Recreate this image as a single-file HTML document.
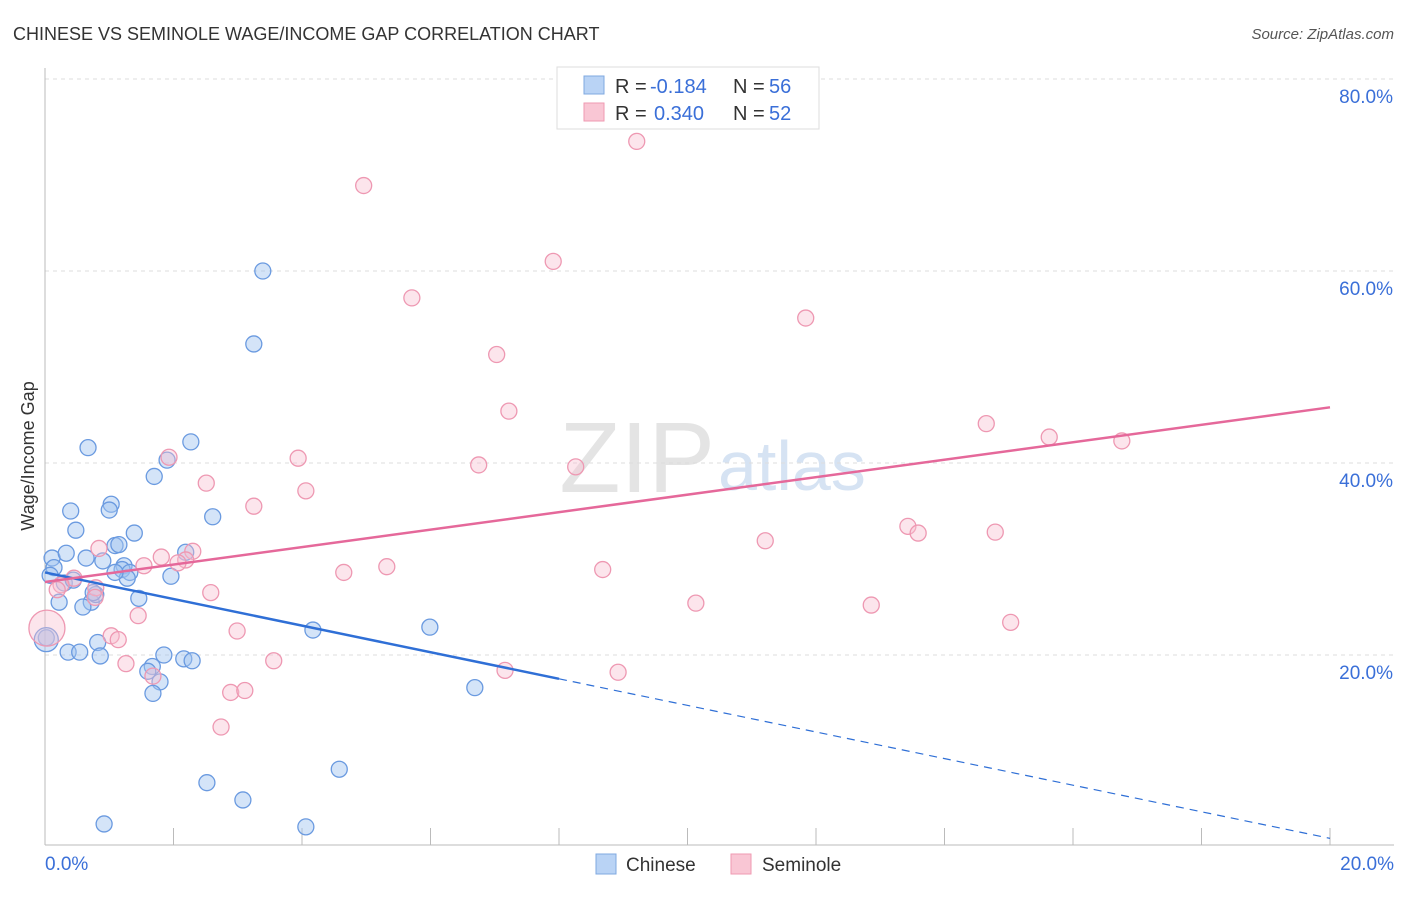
<!DOCTYPE html>
<html><head><meta charset="utf-8"><style>
body{margin:0;background:#fff;font-family:"Liberation Sans",sans-serif;}
svg text{font-family:"Liberation Sans",sans-serif;}
</style></head><body>
<svg id="chart" width="1406" height="892" xmlns="http://www.w3.org/2000/svg">
<text x="13" y="40" font-size="18" fill="#333">CHINESE VS SEMINOLE WAGE/INCOME GAP CORRELATION CHART</text>
<text x="1394" y="39" font-size="15" fill="#555" text-anchor="end" font-style="italic">Source: ZipAtlas.com</text>
<text x="715" y="492" font-size="100" fill="#e4e4e4" text-anchor="end" font-family="Liberation Serif">ZIP</text>
<text x="718" y="490" font-size="70" fill="#d6e3f3">atlas</text>
<g id="grid"></g><g id="axes"></g><g id="marks"></g>
<text transform="translate(34,456) rotate(-90)" font-size="18" fill="#333" text-anchor="middle">Wage/Income Gap</text>
<g>
<rect x="557" y="67" width="262" height="62" fill="#fff" stroke="#ddd"/>
<rect x="584" y="76" width="20" height="18" fill="#b9d3f5" stroke="#7fa8e0"/>
<rect x="584" y="103" width="20" height="18" fill="#f9c6d4" stroke="#ef9ab2"/>
<text x="615" y="93" font-size="20" fill="#333">R =</text>
<text x="650" y="93" font-size="20" fill="#3a6fd8">-0.184</text>
<text x="733" y="93" font-size="20" fill="#333">N =</text>
<text x="769" y="93" font-size="20" fill="#3a6fd8">56</text>
<text x="615" y="120" font-size="20" fill="#333">R =</text>
<text x="654" y="120" font-size="20" fill="#3a6fd8">0.340</text>
<text x="733" y="120" font-size="20" fill="#333">N =</text>
<text x="769" y="120" font-size="20" fill="#3a6fd8">52</text>
</g>
<g>
<rect x="596" y="854" width="20" height="20" fill="#b9d3f5" stroke="#7fa8e0"/>
<text x="626" y="871" font-size="19" fill="#333">Chinese</text>
<rect x="731" y="854" width="20" height="20" fill="#f9c6d4" stroke="#ef9ab2"/>
<text x="762" y="871" font-size="19" fill="#333">Seminole</text>
</g>
</svg>
<script>
const yTicks=[20,40,60,80];
const yTickLabels=["20.0%","40.0%","60.0%","80.0%"];
const xTickLabels=["0.0%","20.0%"];
const blueX=[3.39,3.25,0.67,2.27,1.90,1.70,0.40,1.03,1.00,2.61,0.48,1.39,0.11,0.33,0.64,0.90,1.09,1.15,2.19,0.14,0.08,0.30,0.44,1.23,1.20,1.32,1.28,1.96,0.22,0.72,0.79,0.75,1.46,0.59,0.02,0.82,0.36,0.54,0.86,1.85,2.16,2.29,1.67,1.60,1.79,1.68,4.17,5.99,6.69,4.58,2.52,3.08,0.92,4.06,1.09,0.02];
const blueY=[60.0,52.4,41.6,42.2,40.3,38.6,35.0,35.7,35.1,34.4,33.0,32.7,30.1,30.6,30.1,29.8,31.4,31.5,30.7,29.1,28.3,27.5,27.8,29.3,28.9,28.6,28.0,28.2,25.5,25.5,26.3,26.5,25.9,25.0,21.8,21.3,20.3,20.3,19.9,20.0,19.6,19.4,18.8,18.3,17.2,16.0,22.6,22.9,16.6,8.1,6.7,4.9,2.4,2.1,28.6,21.6];
const blueR=[8,8,8,8,8,8,8,8,8,8,8,8,8,8,8,8,8,8,8,8,8,8,8,8,8,8,8,8,8,8,8,8,8,8,8,8,8,8,8,8,8,8,8,8,8,8,8,8,8,8,8,8,8,8,8,12];
const pinkX=[9.21,4.96,7.91,5.71,11.84,7.03,7.22,14.65,15.63,16.76,1.93,3.94,6.75,8.26,2.51,4.06,3.25,13.43,13.59,14.79,11.21,0.84,2.30,1.81,2.19,2.07,1.54,4.65,5.32,8.68,0.45,0.25,0.19,0.79,2.58,1.45,2.99,1.03,1.14,12.86,10.13,15.03,1.26,3.56,7.16,8.92,1.68,2.89,3.11,2.74,0.03,0.78];
const pinkY=[73.5,68.9,61.0,57.2,55.1,51.3,45.4,44.1,42.7,42.3,40.6,40.5,39.8,39.6,37.9,37.1,35.5,33.4,32.7,32.8,31.9,31.1,30.8,30.2,29.9,29.6,29.3,28.6,29.2,28.9,28.0,27.3,26.8,27.0,26.5,24.1,22.5,22.0,21.6,25.2,25.4,23.4,19.1,19.4,18.4,18.2,17.8,16.1,16.3,12.5,22.8,26.0];
const pinkR=[8,8,8,8,8,8,8,8,8,8,8,8,8,8,8,8,8,8,8,8,8,8,8,8,8,8,8,8,8,8,8,8,8,8,8,8,8,8,8,8,8,8,8,8,8,8,8,8,8,8,18,8];
const blueTrend=[28.6,0.9];
const pinkTrend=[27.6,45.8];
const blueSolidEnd=8.0;

const NS="http://www.w3.org/2000/svg";
const xs=v=>45+v/20*1285;
const ys=v=>847-v/20*192;
function mk(t,a,p){const e=document.createElementNS(NS,t);for(const k in a)e.setAttribute(k,a[k]);p.appendChild(e);return e;}
const grid=document.getElementById('grid'),axes=document.getElementById('axes'),marks=document.getElementById('marks');
yTicks.forEach((t,i)=>{
 const l=mk('line',{x1:45,x2:1394,y1:ys(t),y2:ys(t),stroke:'#ddd','stroke-dasharray':'4,4'},grid);
 
 
 const tx=mk('text',{x:1393,y:ys(t)+24,'font-size':19,fill:'#3a6fd8','text-anchor':'end'},axes);
 tx.textContent=yTickLabels[i];
 
 
});
const al=mk('line',{x1:45,x2:45,y1:68,y2:845,stroke:'#bbb'},axes);


const bl=mk('line',{x1:45,x2:1394,y1:845,y2:845,stroke:'#bbb'},axes);


for(let i=0;i<=10;i++){
 const t=mk('line',{x1:xs(i*2),x2:xs(i*2),y1:828,y2:845,stroke:'#bbb'},axes);
 
 
}
[[0,'start',45],[20,'end',1394]].forEach((d,i)=>{
 const tx=mk('text',{x:d[2],y:870,'font-size':19,fill:'#3a6fd8','text-anchor':d[1]},axes);
 tx.textContent=xTickLabels[i];
 
 
});
blueX.forEach((x,i)=>{
 const c=mk('circle',{cx:xs(x),cy:ys(blueY[i]),r:blueR[i],fill:'rgba(160,196,240,0.45)',stroke:'#6a9ae0','stroke-width':1.3},marks);
 
 
});
pinkX.forEach((x,i)=>{
 const c=mk('circle',{cx:xs(x),cy:ys(pinkY[i]),r:pinkR[i],fill:'rgba(248,190,208,0.4)',stroke:'#ee98b2','stroke-width':1.3},marks);
 
 
});
const by=v=>blueTrend[0]+(blueTrend[1]-blueTrend[0])*v/20;
const b1=mk('line',{x1:xs(0),y1:ys(by(0)),x2:xs(blueSolidEnd),y2:ys(by(blueSolidEnd)),stroke:'#2f6fd6','stroke-width':2.5},marks);


const b2=mk('line',{x1:xs(blueSolidEnd),y1:ys(by(blueSolidEnd)),x2:xs(20),y2:ys(by(20)),stroke:'#2f6fd6','stroke-width':1.2,'stroke-dasharray':'8,6'},marks);


const p1=mk('line',{x1:xs(0),y1:ys(pinkTrend[0]),x2:xs(20),y2:ys(pinkTrend[1]),stroke:'#e5689a','stroke-width':2.5},marks);


</script>
</body></html>
